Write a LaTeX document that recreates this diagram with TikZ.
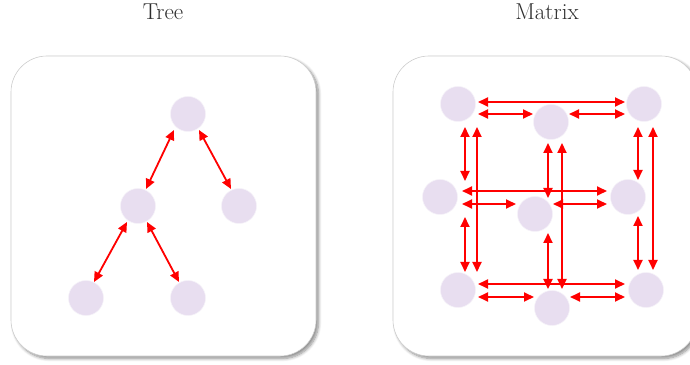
\documentclass[tikz,border=0pt]{standalone}
\usetikzlibrary{calc,arrows.meta,shadows.blur}

\definecolor{nodefill}{RGB}{232,222,240}
\definecolor{boxline}{RGB}{205,205,205}

\tikzset{
  panel/.style={draw=boxline, line width=0.6pt, fill=white, rounded corners=36pt,
    blur shadow={shadow xshift=2.5pt, shadow yshift=-2.5pt, shadow blur steps=8,
      shadow blur radius=3pt, shadow opacity=45}},
  dot/.style={circle, fill=nodefill, draw=white!60!nodefill, line width=0.5pt,
    minimum size=35pt, inner sep=0pt},
  link/.style={draw=red, line width=1.8pt, {Triangle[length=10pt,width=9pt]}-{Triangle[length=10pt,width=9pt]}},
  caption/.style={font=\fontsize{23}{27}\selectfont, text=black!82, anchor=base}
}

\begin{document}
\begin{tikzpicture}[x=1pt,y=1pt]
\useasboundingbox (0,0) rectangle (690,364);

% titles
\node[caption] (ttree) at (163,344) {Tree};
\node[caption] (tmat) at (547,344) {Matrix};

% panels
\path[panel] (11,8) rectangle (316,308);
\path[panel] (393,8) rectangle (697,308);

% tree
\node[dot] (t1) at (188,250) {};
\node[dot] (t2) at (138,158) {};
\node[dot] (t3) at (239,158) {};
\node[dot] (t4) at (86,66) {};
\node[dot] (t5) at (188,66) {};

\draw[link] ($(t1)+(-14,-16)$) -- ($(t2)+(8,17)$);
\draw[link] ($(t1)+(11,-16)$) -- ($(t3)+(-8,17)$);
\draw[link] ($(t2)+(-11,-16)$) -- ($(t4)+(8,16)$);
\draw[link] ($(t2)+(9,-16)$) -- ($(t5)+(-9,16)$);

% matrix
\node[dot] (tl) at (458,260) {};
\node[dot] (tm) at (551,242) {};
\node[dot] (tr) at (644,260) {};
\node[dot] (ml) at (440,167) {};
\node[dot] (mm) at (535,150) {};
\node[dot] (mr) at (628,167) {};
\node[dot] (bl) at (458,74) {};
\node[dot] (bm) at (552,56) {};
\node[dot] (br) at (646,74) {};

% horizontal links
\draw[link] ($(tl)+(20,2)$) -- ($(tr)+(-19,2)$);
\draw[link] ($(tl)+(20,-10)$) -- ($(tm)+(-18,8)$);
\draw[link] ($(tm)+(18,8)$) -- ($(tr)+(-19,-10)$);
\draw[link] ($(ml)+(22,6)$) -- ($(mr)+(-21,6)$);
\draw[link] ($(ml)+(22,-7)$) -- ($(mm)+(-19,10)$);
\draw[link] ($(mm)+(18,10)$) -- ($(mr)+(-21,-7)$);
\draw[link] ($(bl)+(20,6)$) -- ($(br)+(-21,6)$);
\draw[link] ($(bl)+(20,-7)$) -- ($(bm)+(-18,11)$);
\draw[link] ($(bm)+(18,11)$) -- ($(br)+(-21,-7)$);

% vertical links
\draw[link] ($(tl)+(7,-23)$) -- ($(ml)+(25,16)$);
\draw[link] ($(tl)+(19,-23)$) -- ($(bl)+(19,18)$);
\draw[link] ($(ml)+(25,-20)$) -- ($(bl)+(7,18)$);
\draw[link] ($(tm)+(-3,-21)$) -- ($(mm)+(13,16)$);
\draw[link] ($(tm)+(11,-21)$) -- ($(bm)+(10,19)$);
\draw[link] ($(mm)+(13,-19)$) -- ($(bm)+(-4,19)$);
\draw[link] ($(tr)+(-6,-23)$) -- ($(mr)+(10,17)$);
\draw[link] ($(tr)+(9,-23)$) -- ($(br)+(7,20)$);
\draw[link] ($(mr)+(10,-19)$) -- ($(br)+(-8,20)$);
\end{tikzpicture}
\end{document}
